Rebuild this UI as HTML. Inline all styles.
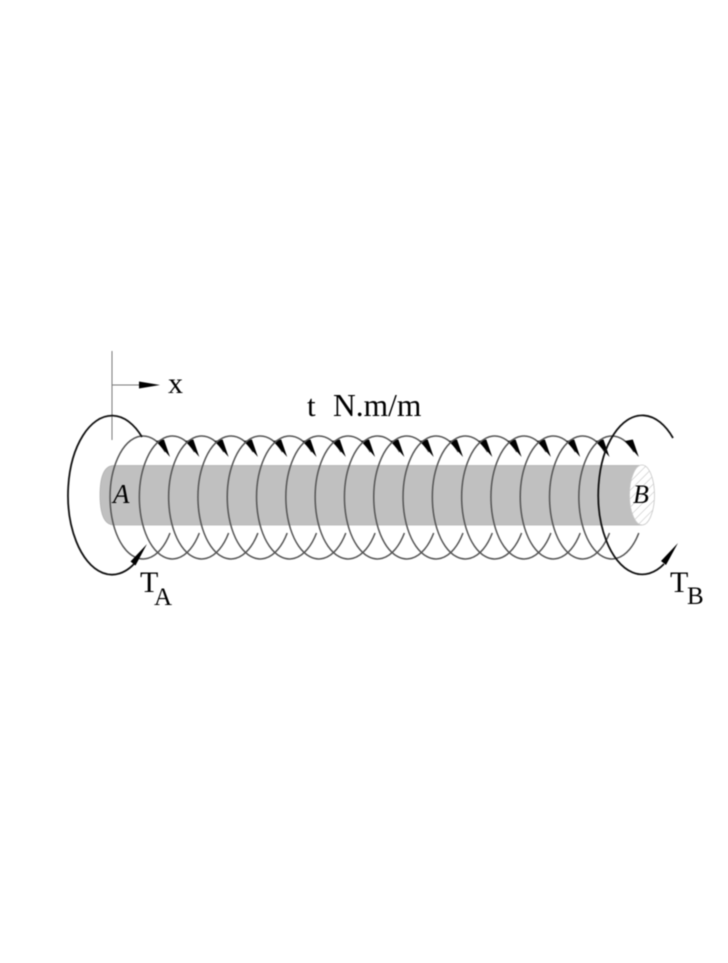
<!DOCTYPE html>
<html>
<head>
<meta charset="utf-8">
<style>
html,body{margin:0;padding:0;background:#fff;}
svg{display:block;filter:blur(0.6px);}
text{font-family:"Liberation Serif",serif;fill:#000;}
</style>
</head>
<body>
<svg width="728" height="963" viewBox="0 0 728 963" xmlns="http://www.w3.org/2000/svg">
<defs>
<pattern id="h" width="6" height="6" patternUnits="userSpaceOnUse" patternTransform="rotate(45)">
<line x1="0" y1="0" x2="0" y2="6" stroke="#bbb" stroke-width="1"/>
</pattern>
<g id="loop">
<path d="M165.3 452A33 61.5 0 1 0 170 533" fill="none" stroke="#555" stroke-width="1.5"/>
<path d="M170 457L156 441L164 439.5Z" fill="#000"/>
</g>
</defs>
<rect width="728" height="963" fill="#fff"/>
<path d="M114 465.5H642V525H114Q100 525 100 495Q100 465.5 114 465.5Z" fill="#c0c0c0" stroke="#b0b0b0" stroke-width="0.8"/>
<ellipse cx="642" cy="495" rx="12.5" ry="30" fill="#fff"/>
<ellipse cx="642" cy="495" rx="12.5" ry="30" fill="url(#h)" stroke="#c8c8c8" stroke-width="0.8"/>
<use href="#loop" x="0"/>
<use href="#loop" x="29.3"/>
<use href="#loop" x="58.6"/>
<use href="#loop" x="87.9"/>
<use href="#loop" x="117.2"/>
<use href="#loop" x="146.5"/>
<use href="#loop" x="175.8"/>
<use href="#loop" x="205.1"/>
<use href="#loop" x="234.4"/>
<use href="#loop" x="263.7"/>
<use href="#loop" x="293"/>
<use href="#loop" x="322.3"/>
<use href="#loop" x="351.6"/>
<use href="#loop" x="380.9"/>
<use href="#loop" x="410.2"/>
<use href="#loop" x="439.5"/>
<use href="#loop" x="468.8"/>
<path d="M112 351V440M112 385H140" fill="none" stroke="#777" stroke-width="1"/>
<path d="M139 381.5L160 385L139 388.5Z" fill="#000"/>
<path d="M142 437A44 79.5 0 1 0 134 564" fill="none" stroke="#111" stroke-width="1.8"/>
<path d="M147 544L135.5 565.5L130.5 561.5Z" fill="#000"/>
<path d="M673 438A44 79.5 0 1 0 664 564" fill="none" stroke="#111" stroke-width="1.8"/>
<path d="M678 543L666 565L661 561Z" fill="#000"/>
<text x="168" y="393" font-size="30">x</text>
<text x="307" y="416" font-size="31">t</text>
<text x="333" y="416" font-size="31.5">N.m/m</text>
<text x="113" y="503" font-size="27" font-style="italic">A</text>
<text x="633" y="503" font-size="26" font-style="italic">B</text>
<text x="140" y="592" font-size="30">T</text>
<text x="154" y="605" font-size="25">A</text>
<text x="670" y="592" font-size="30">T</text>
<text x="687" y="604" font-size="25">B</text>
</svg>
</body>
</html>
